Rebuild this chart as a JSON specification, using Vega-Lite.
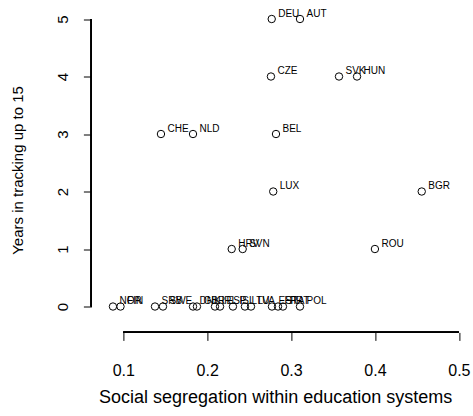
{
  "$schema": "https://vega.github.io/schema/vega-lite/v6.json",
  "width": 367.5,
  "height": 324.9,
  "autosize": {"type": "none"},
  "padding": {"left": 91.4, "top": 7.5, "right": 14.1, "bottom": 83.6},
  "background": "white",
  "config": {"view": {"stroke": null}, "font": "Liberation Sans"},
  "data": {"values": [
    {"country": "DEU", "segregation": 0.2769, "tracking": 5},
    {"country": "AUT", "segregation": 0.3106, "tracking": 5},
    {"country": "CZE", "segregation": 0.276, "tracking": 4},
    {"country": "SVK", "segregation": 0.3571, "tracking": 4},
    {"country": "HUN", "segregation": 0.3786, "tracking": 4},
    {"country": "CHE", "segregation": 0.1449, "tracking": 3},
    {"country": "NLD", "segregation": 0.1831, "tracking": 3},
    {"country": "BEL", "segregation": 0.282, "tracking": 3},
    {"country": "LUX", "segregation": 0.2787, "tracking": 2},
    {"country": "BGR", "segregation": 0.4557, "tracking": 2},
    {"country": "HRV", "segregation": 0.2292, "tracking": 1},
    {"country": "SVN", "segregation": 0.2423, "tracking": 1},
    {"country": "ROU", "segregation": 0.3999, "tracking": 1},
    {"country": "NOR", "segregation": 0.0877, "tracking": 0},
    {"country": "FIN", "segregation": 0.0967, "tracking": 0},
    {"country": "SRB", "segregation": 0.1378, "tracking": 0},
    {"country": "SWE", "segregation": 0.1473, "tracking": 0},
    {"country": "DNK", "segregation": 0.1831, "tracking": 0},
    {"country": "GBR", "segregation": 0.1878, "tracking": 0},
    {"country": "IRL", "segregation": 0.2093, "tracking": 0},
    {"country": "ESP", "segregation": 0.2153, "tracking": 0},
    {"country": "ISL", "segregation": 0.2307, "tracking": 0},
    {"country": "LTU", "segregation": 0.245, "tracking": 0},
    {"country": "LVA", "segregation": 0.2522, "tracking": 0},
    {"country": "EST", "segregation": 0.2772, "tracking": 0},
    {"country": "FRA", "segregation": 0.2844, "tracking": 0},
    {"country": "PRT", "segregation": 0.2903, "tracking": 0},
    {"country": "POL", "segregation": 0.3106, "tracking": 0}
  ]},
  "layer": [
    {
      "mark": {"type": "point", "shape": "circle", "filled": false, "color": "black", "strokeWidth": 1, "size": 55, "opacity": 1},
      "encoding": {
        "x": {
          "field": "segregation", "type": "quantitative",
          "scale": {"domain": [0.062, 0.5], "nice": false, "zero": false},
          "axis": {
            "title": "Social segregation within education systems",
            "values": [0.1, 0.2, 0.3, 0.4, 0.5], "format": ".1f",
            "domain": false, "grid": false, "tickSize": 8, "tickColor": "black",
            "labelFontSize": 16, "labelColor": "black", "labelPadding": 22,
            "labelFlush": false, "labelOverlap": false,
            "titleFontSize": 18, "titleFontWeight": "normal", "titleColor": "black", "titlePadding": 10
          }
        },
        "y": {
          "field": "tracking", "type": "quantitative",
          "scale": {"domain": [-0.45, 5.2], "nice": false, "zero": false},
          "axis": {
            "title": "Years in tracking up to 15",
            "values": [0, 1, 2, 3, 4, 5], "format": "d",
            "domain": false, "grid": false, "tickSize": 8, "tickColor": "black",
            "labelFontSize": 15, "labelColor": "black", "labelPadding": 13,
            "labelAngle": -90, "labelAlign": "center", "labelBaseline": "bottom",
            "labelFlush": false, "labelOverlap": false,
            "titleFontSize": 15, "titleFontWeight": "normal", "titleColor": "black", "titlePadding": 30
          }
        }
      }
    },
    {
      "mark": {"type": "text", "align": "left", "baseline": "alphabetic", "dx": 6.5, "dy": -2.5, "fontSize": 10, "color": "black"},
      "encoding": {
        "x": {"field": "segregation", "type": "quantitative"},
        "y": {"field": "tracking", "type": "quantitative"},
        "text": {"field": "country"}
      }
    },
    {
      "mark": {"type": "rule", "color": "black", "strokeWidth": 1},
      "encoding": {
        "x": {"datum": 0.1, "type": "quantitative"},
        "x2": {"datum": 0.5},
        "y": {"datum": -0.45, "type": "quantitative"}
      }
    },
    {
      "mark": {"type": "rule", "color": "black", "strokeWidth": 1},
      "encoding": {
        "x": {"datum": 0.062, "type": "quantitative"},
        "y": {"datum": 0, "type": "quantitative"},
        "y2": {"datum": 5}
      }
    }
  ]
}
